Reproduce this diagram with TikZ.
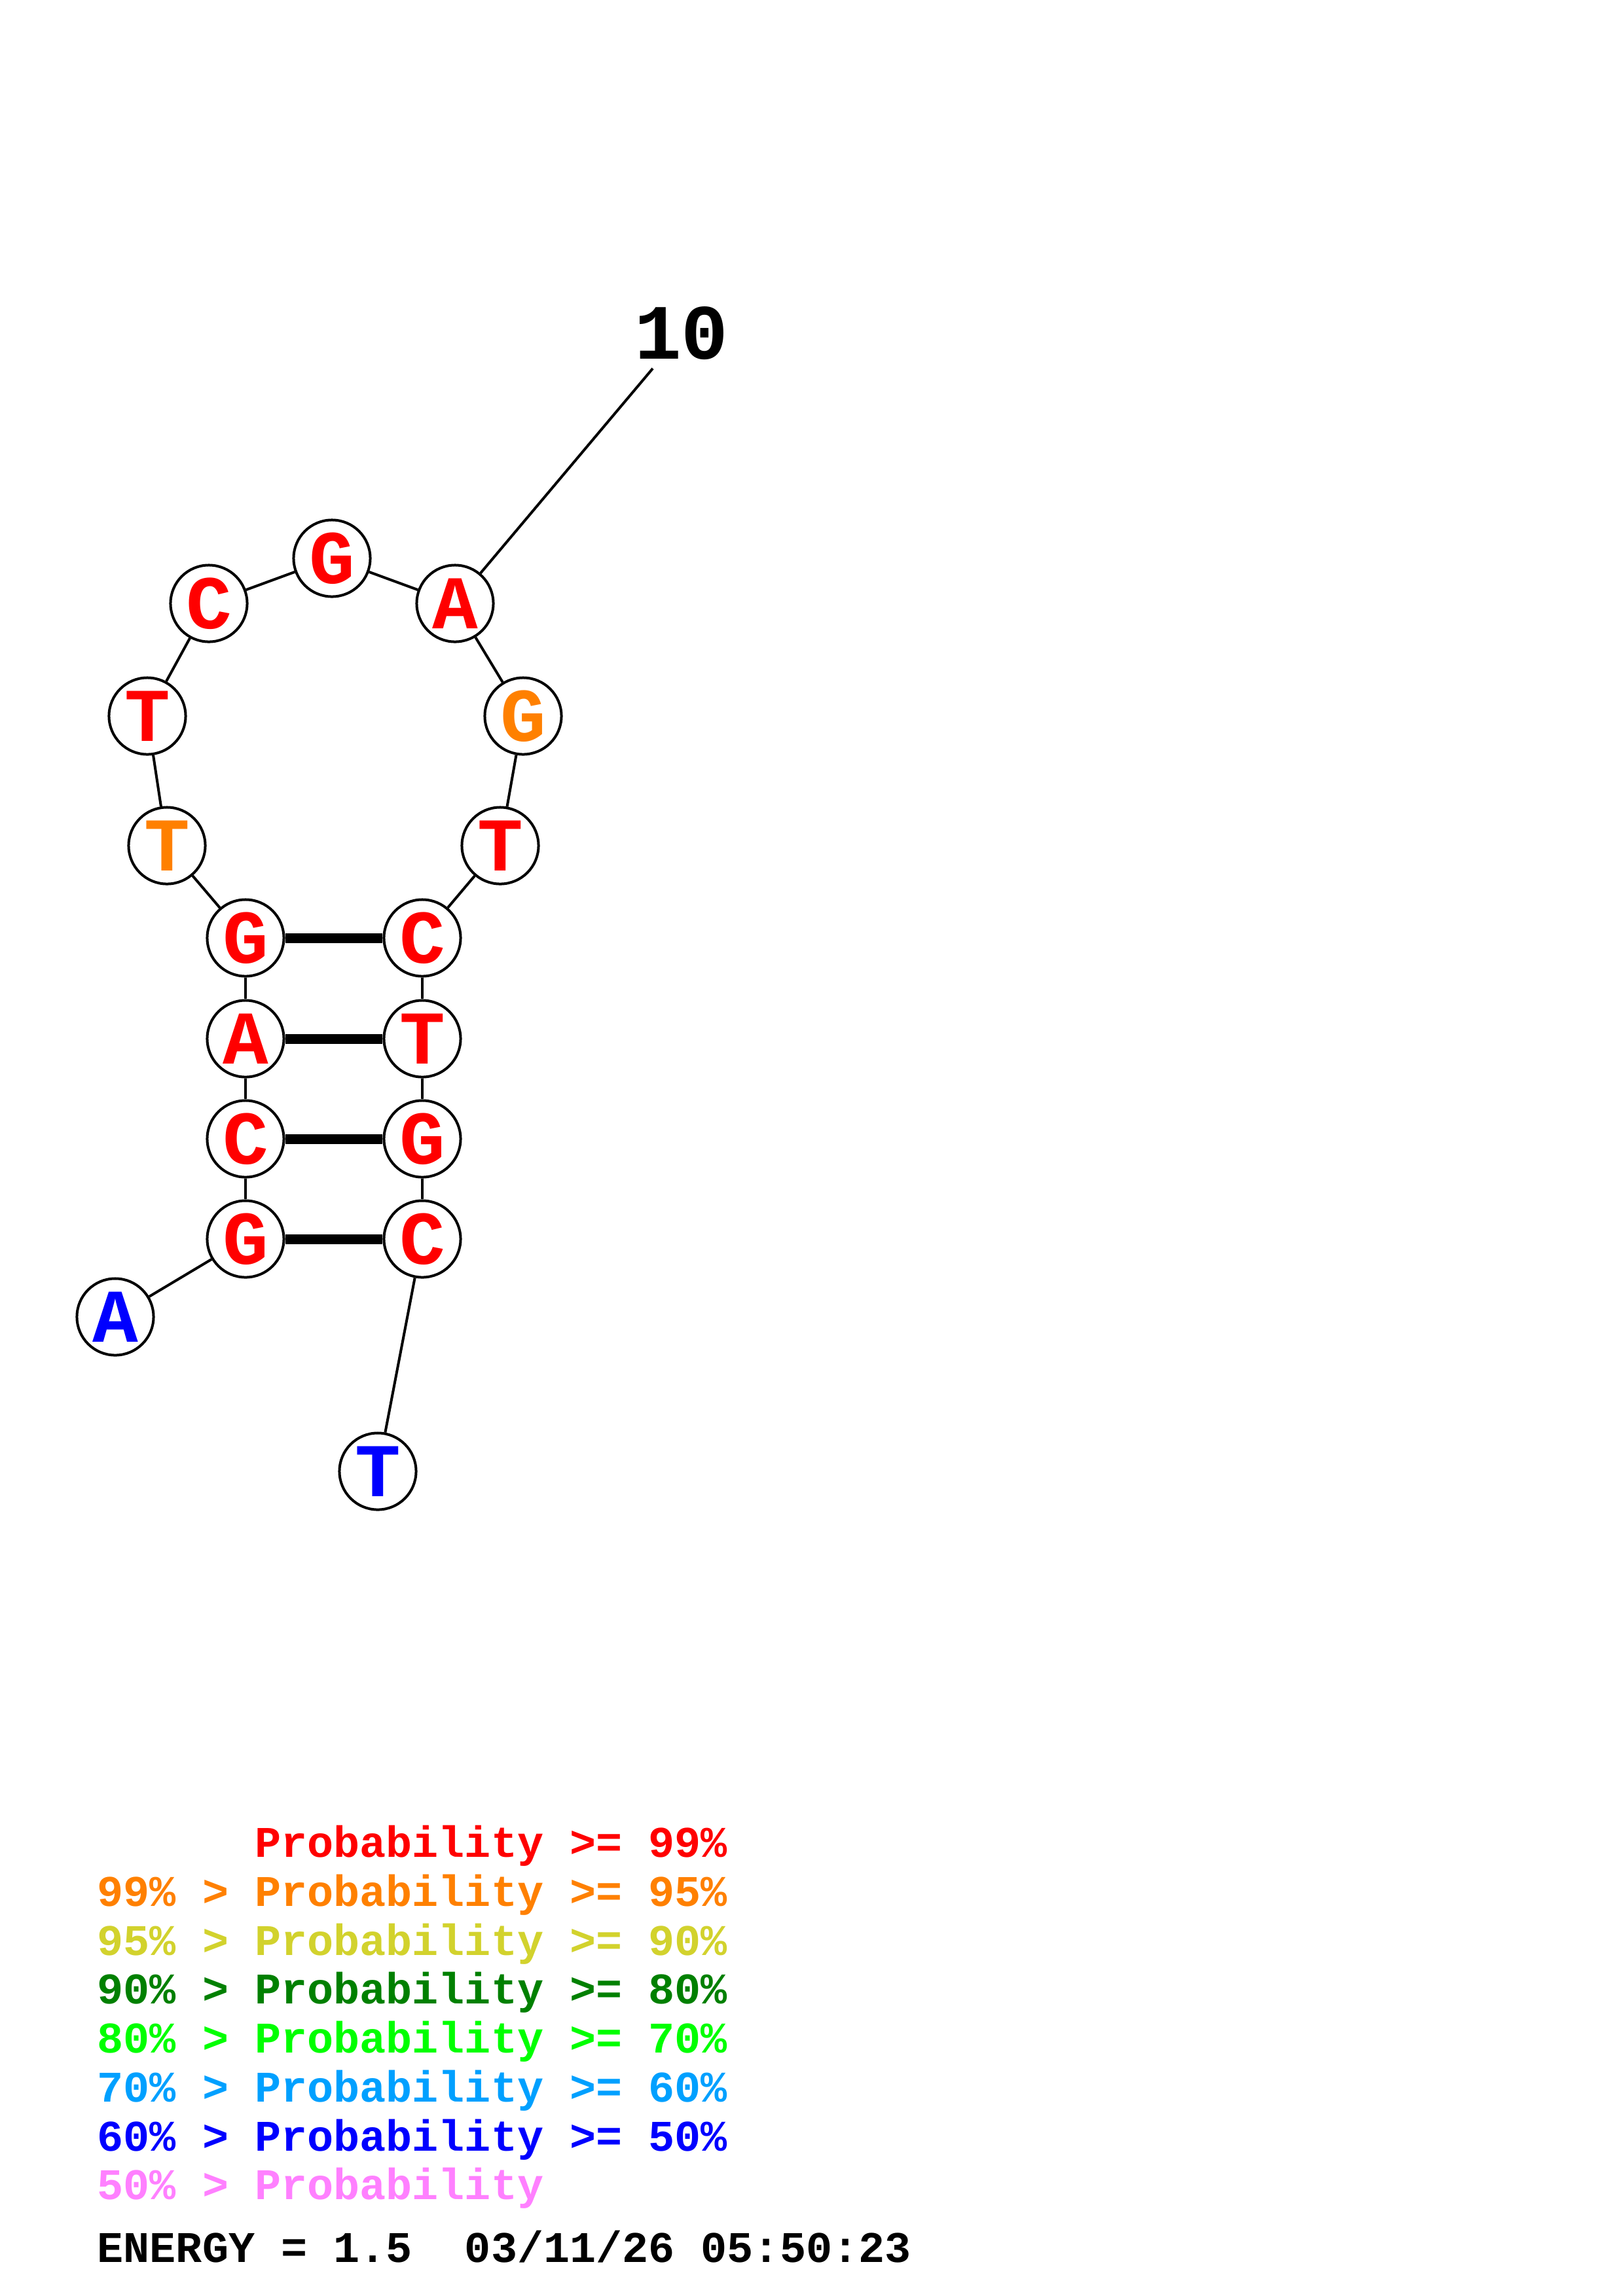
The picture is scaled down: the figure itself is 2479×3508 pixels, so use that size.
\documentclass[tikz,border=0pt]{standalone}
\usepackage{fontspec}
\newfontfamily\mono{Liberation Mono}
\definecolor{pRed}{RGB}{255,0,0}
\definecolor{pOrange}{RGB}{255,128,0}
\definecolor{pYellow}{RGB}{210,210,45}
\definecolor{pDkGreen}{RGB}{0,128,0}
\definecolor{pGreen}{RGB}{0,255,0}
\definecolor{pSky}{RGB}{0,160,255}
\definecolor{pBlue}{RGB}{0,0,255}
\definecolor{pPink}{RGB}{255,128,255}
\tikzset{
  base/.style={circle, draw=black, fill=white, line width=0.04cm, minimum size=1.17cm, inner sep=0pt,
    font=\mono\bfseries\fontsize{33}{33}\selectfont},
  bb/.style={line width=0.04cm},
  pair/.style={line width=0.15cm},
  leg/.style={anchor=base west, inner sep=0pt, font=\mono\bfseries\fontsize{19}{19}\selectfont}
}
\begin{document}
\begin{tikzpicture}[x=0.01cm, y=-0.01cm]
\useasboundingbox (0,0) rectangle (2479,3508);
\fill[white] (0,0) rectangle (2479,3508);
% nucleotides
\node[base, text=pBlue]   (n1)  at (176,2012) {A};
\node[base, text=pRed]    (n2)  at (375,1893) {G};
\node[base, text=pRed]    (n3)  at (375,1740) {C};
\node[base, text=pRed]    (n4)  at (375,1587) {A};
\node[base, text=pRed]    (n5)  at (375,1433) {G};
\node[base, text=pOrange] (n6)  at (255,1292) {T};
\node[base, text=pRed]    (n7)  at (225,1094) {T};
\node[base, text=pRed]    (n8)  at (319,922) {C};
\node[base, text=pRed]    (n9)  at (507,853) {G};
\node[base, text=pRed]    (n10) at (695,922) {A};
\node[base, text=pOrange] (n11) at (799,1094) {G};
\node[base, text=pRed]    (n12) at (764,1292) {T};
\node[base, text=pRed]    (n13) at (645,1433) {C};
\node[base, text=pRed]    (n14) at (645,1587) {T};
\node[base, text=pRed]    (n15) at (645,1740) {G};
\node[base, text=pRed]    (n16) at (645,1893) {C};
\node[base, text=pBlue]   (n17) at (577,2248) {T};
% backbone
\foreach \a/\b in {n1/n2,n2/n3,n3/n4,n4/n5,n5/n6,n6/n7,n7/n8,n8/n9,n9/n10,n10/n11,n11/n12,n12/n13,n13/n14,n14/n15,n15/n16,n16/n17}
  \draw[bb] (\a) -- (\b);
% pairs
\foreach \a/\b in {n2/n16,n3/n15,n4/n14,n5/n13}
  \draw[pair] (\a) -- (\b);
% label 10
\node[font=\mono\bfseries\fontsize{34}{34}\selectfont, inner sep=0pt] (lab10) at (1041,509) {10};
\coordinate (t10) at (997,563);
\draw[bb] (n10) -- (t10);
% legend
\node[leg, text=pRed]     (l1) at (148,2837) {\phantom{99\% > }Probability >= 99\%};
\node[leg, text=pOrange]  (l2) at (148,2912) {99\% > Probability >= 95\%};
\node[leg, text=pYellow]  (l3) at (148,2987) {95\% > Probability >= 90\%};
\node[leg, text=pDkGreen] (l4) at (148,3061) {90\% > Probability >= 80\%};
\node[leg, text=pGreen]   (l5) at (148,3136) {80\% > Probability >= 70\%};
\node[leg, text=pSky]     (l6) at (148,3211) {70\% > Probability >= 60\%};
\node[leg, text=pBlue]    (l7) at (148,3286) {60\% > Probability >= 50\%};
\node[leg, text=pPink]    (l8) at (148,3360) {50\% > Probability};
\node[leg, text=black]    (l9) at (148,3456) {ENERGY = 1.5\ \ 03/11/26 05:50:23};
\end{tikzpicture}
\end{document}
